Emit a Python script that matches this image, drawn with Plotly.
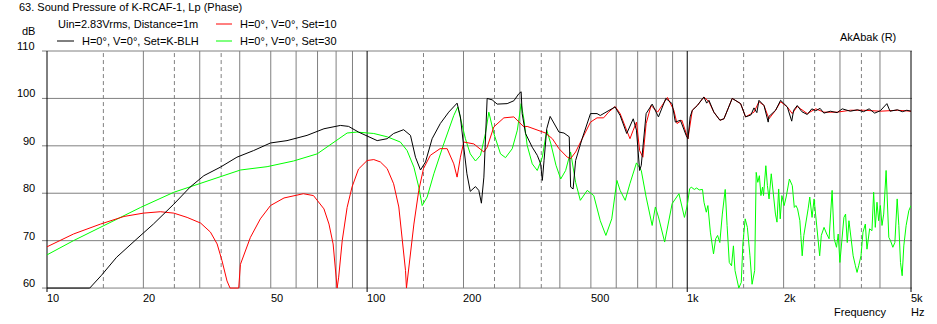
import math
import plotly.graph_objects as go

# ---------------- data ----------------
freq_black = [10, 13.6, 14.8, 16.5, 19.1, 21.5, 24.9, 28, 30.9, 34.8, 39.2, 44.2, 49.9, 56.2, 64.9, 73.3,
              82.5, 87.5, 94, 100, 107.5, 115.5, 121, 130, 136.6, 141.6, 146.8, 152.2, 159.6, 169.3, 179.8,
              191, 195.6, 200.4, 205, 210, 218, 223.3, 227.5, 231.6, 237.1, 245.8, 254.8, 273.8, 287.3,
              297.9, 302.8, 305, 312.5, 328, 340, 348.4, 352.6, 357, 364, 373, 384, 397.5, 412, 427.9,
              432.3, 440, 448, 469.5, 498.6, 522.6, 535, 568, 595, 617, 647, 678, 694, 710, 718.5, 727,
              744, 777, 813, 857, 897, 918, 952, 992, 1005, 1021, 1037, 1075, 1127, 1150, 1169, 1211,
              1265, 1302, 1382, 1468, 1521, 1580, 1616, 1650, 1675, 1737, 1790, 1800, 1888, 1957, 2054,
              2120, 2150, 2206, 2280, 2371, 2450, 2520, 2600, 2672, 2800, 2939, 3050, 3231, 3400, 3556,
              3700, 3850, 4010, 4204, 4300, 4531, 4700, 4850, 5000]
db_black = [60, 60, 62.7, 66.5, 70.4, 73.5, 77.7, 81.3, 83.7, 85.5, 87.6, 89, 90.6, 91.1, 92.2, 93.6,
            94.3, 94.1, 92.9, 92, 91.1, 91.5, 92.6, 93.4, 92.2, 87.6, 84.9, 86.6, 91.5, 94.7, 97.1,
            99, 96.1, 89.7, 84.1, 80.4, 81.4, 80.6, 77.9, 83.4, 100, 99.7, 98.8, 98.9, 99.5,
            101, 101.4, 96.8, 92.6, 89.7, 88, 86.2, 82.7, 86.9, 93.6, 96.2, 94.7, 92.9, 92.7, 91.9,
            81.3, 80.9, 86.9, 91.5, 96.8, 96.8, 96.4, 97.5, 98.2, 96.4, 92.6, 95.7, 93.3, 84.8, 85.9, 89.7,
            96.8, 98.8, 96.1, 100, 98.9, 95, 95.4, 92.2, 91.5, 96.1, 97.5, 98.5, 100.3, 99.0, 99.6, 97.1,
            95.4, 95.7, 100, 98.9, 96.1, 96.5, 98, 97, 99.6, 98.5, 95.0, 96.2, 97.5, 99.6, 98.2,
            95.2, 97.5, 98.5, 97.2, 96.6, 97.8, 97.4, 97.9, 96.9, 97.3, 97.0, 97.8, 97.3, 97.6, 97.2,
            97.8, 96.9, 97.4, 98.9, 97.3, 97.6, 97.2, 97.5, 97.3]

freq_red = [10, 12.1, 14.7, 17.4, 20, 22.6, 24.9, 27.4, 30.2, 32.4, 34.0, 35.2, 36.5, 37.3, 39.7, 40.2,
            43.2, 46.4, 49.9, 55, 63.2, 68, 73.3, 76, 78.3, 79.9, 80.6, 81.5, 83.6, 86.6, 89.7, 94, 100,
            104.9, 110, 115.5, 121, 125.6, 128.6, 131.8, 132.7, 135, 140, 145, 150, 157.6, 169, 177.8,
            186.5, 191, 195.6, 200.4, 215.4, 231.6, 237.1, 248.8, 267.4, 287.3, 297.9, 308.7, 316.2,
            339.9, 360.9, 379, 397.5, 422, 432.3, 448, 469.5, 498.6, 522.6, 547.9, 568, 595.2, 617, 647,
            662.3, 678, 694, 710, 727, 744, 771, 808, 827.4, 867.3, 908, 929, 962, 988, 1005, 1037, 1075,
            1127, 1169, 1211, 1265, 1302, 1382, 1468, 1521, 1616, 1675, 1737, 1800, 1888, 1957, 2054,
            2128, 2206, 2371, 2520, 2672, 2939, 3231, 3556, 4010, 4531, 5000]
db_red = [68.7, 71.4, 73.5, 75.1, 75.8, 76.1, 75.8, 74.9, 73.7, 71.8, 69.3, 65.8, 61.5, 60, 60, 65,
          70.7, 74.6, 77.4, 79, 79.9, 79.5, 76.7, 73.5, 69.3, 62.3, 60, 62.3, 70, 77, 81.3, 85.1, 86.9,
          87.1, 86.6, 85.2, 82, 77.1, 70.7, 63.7, 60, 64.4, 73.5, 80.6, 85.2, 88, 89.4, 89.4,
          86.2, 83.4, 87.6, 90.8, 90.4, 88.7, 89.7, 94, 95.9, 96.1, 95, 94, 94.1,
          93.3, 92.7, 91.5, 89.4, 87.6, 87.3, 88.7, 91.5, 95, 95.9, 95.9, 97.1, 98.3, 96.8, 93.3,
          91.5, 93.3, 95, 89, 87.6, 94.7, 98.5, 97.1, 98.2, 100.2, 97.5, 94.7, 95.4, 92.9, 91.5, 97.5, 98.5,
          100.3, 99.3, 97.1, 95.4, 95.7, 100, 98.9, 96.1, 97.1, 99.3, 98.5, 95.7, 97.5, 99.3, 98.2,
          96.8, 98.3, 96.8, 97.8, 97.1, 97.1, 97.5, 97.5, 97.3, 97.5, 97.3]

freq_green = [10, 12.1, 15.4, 19.6, 24.9, 29.4, 34.8, 40.2, 48.7, 58.9, 69.8, 78.7, 86.6, 92.8, 100,
              104.9, 115.5, 127, 133.3, 140, 145, 148.6, 154, 161.6, 173.5, 186.5, 192, 195.6, 202.8,
              210, 218, 226, 234.2, 240, 248.8, 261, 270.6, 284, 294.6, 302.8, 308.7, 316.2, 328, 340,
              352.6, 364, 375, 389, 402.5, 417, 432, 448, 463.5, 487, 510.5, 535, 557, 581, 603, 617,
              640, 662, 694, 718.5, 744, 777, 795, 813, 850, 897, 942,
              980, 1000, 1017, 1029, 1052, 1070, 1090, 1116, 1128, 1147, 1160, 1181, 1208, 1227, 1244,
              1264, 1287, 1314, 1332, 1353, 1375, 1394, 1410, 1433, 1449, 1475, 1492, 1517, 1541, 1570,
              1594, 1624, 1642, 1661, 1680, 1699, 1719, 1731, 1760, 1780, 1801, 1830, 1856, 1886, 1907,
              1930, 1952, 1975, 2008, 2037, 2085, 2129, 2160, 2185, 2211, 2248, 2264, 2286, 2313, 2347,
              2386, 2414, 2454, 2490, 2520, 2561, 2592, 2623, 2675, 2727, 2774, 2835, 2877, 2926, 2962,
              2998, 3035, 3049, 3086, 3123, 3161, 3200, 3252, 3298, 3352, 3392, 3432, 3490, 3540, 3600,
              3643, 3713, 3776, 3822, 3868, 3915, 3962, 4011, 4059, 4109, 4180, 4211, 4262, 4314, 4388,
              4452, 4527, 4581, 4636, 4692, 4748, 4828, 4922, 5000]
db_green = [67, 70, 73.5, 77, 80.2, 81.8, 83.5, 84.9, 85.6, 86.8, 88.3, 90.8, 92.7, 92.9, 92.8,
            92.6, 91.9, 90.8, 89, 85.5, 81.3, 77.4, 79.2, 84.1, 90.4, 96.4, 98.2, 96.1, 91.5,
            88.3, 86.8, 88, 92.6, 97.1, 92.6, 88.3, 87.5, 89.4, 93.3, 98.9, 95.7, 90.1, 86.2, 84.8,
            87.6, 93.3, 90.4, 85.9, 83, 84.8, 88.7, 82.3, 78.5, 80.6, 79.5, 74.2, 71.1, 74.6, 82.7, 80.6,
            78.5, 82, 86.4, 84.8, 79.2, 73.2, 77.1, 75, 69.7, 77.8, 79.9,
            74.9, 77.4, 80.9, 81.3, 80.8, 81.1, 80.7, 80.8, 78.1, 76, 77.4, 71.8, 67.2, 70.4, 71.1,
            69.6, 75.6, 80.8, 73.2, 65.4, 64.7, 68.9, 63.7, 61.5, 60, 61.2, 69.3, 74.6, 72.8, 66.8,
            60.8, 63.7, 84.4, 82.3, 83.7, 79.5, 81.3, 79.5, 85.8, 81.6, 78.8, 84.1, 79.5, 75.6, 73.9,
            80.9, 74.6, 79.5, 77.4, 79.2, 83, 81.6, 77, 77.4, 76.7, 74.2, 71.1, 66.8, 71.1, 73.5,
            76.7, 79.2, 74.9, 78.8, 75.6, 71.1, 66.8, 71.1, 72.8, 71.4, 70.4, 80.6, 70.4, 68.6, 71.4,
            65.4, 69.6, 71.1, 74.9, 75.6, 69.6, 74.2, 70.4, 66.8, 64.7, 63.3, 64.7, 66.8, 71.8, 73.5,
            68.2, 72.5, 72.1, 80.2, 72.8, 78.1, 74.2, 77.4, 73.2, 75.6, 84.8, 78.8, 70.7, 70, 68.6,
            69.6, 78.8, 73.2, 65.4, 62.6, 68.9, 73.2, 76.3, 77.4]

x_label_vals = [10, 20, 50, 100, 200, 500, 1000, 2000, 5000]
x_label_text = ["10", "20", "50", "100", "200", "500", "1k", "2k", "5k"]
x_grid_solid = [20, 30, 40, 50, 60, 70, 80, 90, 200, 300, 400, 500, 600, 700, 800, 900,
                2000, 3000, 4000]
x_grid_dashed = [15, 25, 35, 150, 250, 350, 1500, 2500, 3500]
x_grid_major = [10, 100, 1000, 5000]
y_ticks = [60, 70, 80, 90, 100, 110]

title_text = "63. Sound Pressure of K-RCAF-1, Lp (Phase)"
note_text = "Uin=2.83Vrms, Distance=1m"
legend_names = ["H=0°, V=0°, Set=K-BLH", "H=0°, V=0°, Set=10", "H=0°, V=0°, Set=30"]

# ---------------- layout geometry ----------------
FIG_W, FIG_H = 937, 324
L, T, W, H = 47, 51, 864, 238
X_MIN, X_MAX = 10, 5000
Y_MIN, Y_MAX = 59.8, 110
FONT = "Liberation Sans, Arial, sans-serif"
GREY = "#808080"


def fx(f):
    return (math.log10(f) - math.log10(X_MIN)) / (math.log10(X_MAX) - math.log10(X_MIN))


def fy(v):
    return (v - Y_MIN) / (Y_MAX - Y_MIN)


def pxx(p):
    return (p - L) / W


def pxy(p):
    return (T + H - p) / H


fig = go.Figure()
for fr, db, col in [(freq_green, db_green, "#00ff00"),
                    (freq_red, db_red, "#ff0000"),
                    (freq_black, db_black, "#000000")]:
    fig.add_trace(go.Scatter(x=fr, y=db, mode="lines", line=dict(color=col, width=1),
                             showlegend=False, hoverinfo="skip"))

shapes = []
for v in y_ticks:
    shapes.append(dict(type="line", xref="paper", yref="paper", x0=pxx(42), x1=pxx(912),
                       y0=fy(v), y1=fy(v), line=dict(color=GREY, width=1), layer="below"))
for f in x_grid_solid:
    shapes.append(dict(type="line", xref="paper", yref="paper", x0=fx(f), x1=fx(f),
                       y0=fy(60), y1=fy(110), line=dict(color=GREY, width=1), layer="below"))
for f in x_grid_dashed:
    shapes.append(dict(type="line", xref="paper", yref="paper", x0=fx(f), x1=fx(f),
                       y0=fy(60), y1=fy(110), line=dict(color=GREY, width=1, dash="4px,3px"),
                       layer="below"))
for f in x_grid_major:
    shapes.append(dict(type="line", xref="paper", yref="paper", x0=fx(f), x1=fx(f),
                       y0=pxy(292), y1=fy(110), line=dict(color="#000000", width=1), layer="below"))

for (x0, x1, y, col) in [(57, 74, 41, "#000000"), (216, 232, 24, "#ff0000"), (216, 232, 41, "#00ff00")]:
    shapes.append(dict(type="line", xref="paper", yref="paper", x0=pxx(x0), x1=pxx(x1),
                       y0=pxy(y), y1=pxy(y), line=dict(color=col, width=1)))

annotations = []


def ann(text, x, y, xanchor="left"):
    annotations.append(dict(text=text, xref="paper", yref="paper", x=pxx(x), y=pxy(y),
                            xanchor=xanchor, yanchor="middle", showarrow=False,
                            font=dict(family=FONT, size=11, color="#000000")))


ann(title_text, 17, 7)
ann(note_text, 56, 24)
ann(legend_names[0], 80, 41)
ann(legend_names[1], 238, 24)
ann(legend_names[2], 238, 41)
ann("dB", 37, 31, "right")
for v in y_ticks:
    ypix = T + H - fy(v) * H
    ann(str(v), 37, ypix - 5, "right")
for v, t in zip(x_label_vals, x_label_text):
    xpix = L + fx(v) * W
    ann(t, xpix - 2, 298)
ann("AkAbak (R)", 838, 37)
ann("Frequency", 832, 312)
ann("Hz", 909, 312)

fig.update_layout(
    width=FIG_W, height=FIG_H,
    margin=dict(l=L, r=FIG_W - L - W, t=T, b=FIG_H - T - H, pad=0),
    paper_bgcolor="white", plot_bgcolor="rgba(0,0,0,0)",
    xaxis=dict(type="log", range=[math.log10(X_MIN), math.log10(X_MAX)], visible=False),
    yaxis=dict(range=[Y_MIN, Y_MAX], visible=False),
    shapes=shapes, annotations=annotations, showlegend=False,
)

fig.write_html("out.html", config={"displayModeBar": False},
               post_script="document.body.style.margin='0';document.body.style.padding='0';")
